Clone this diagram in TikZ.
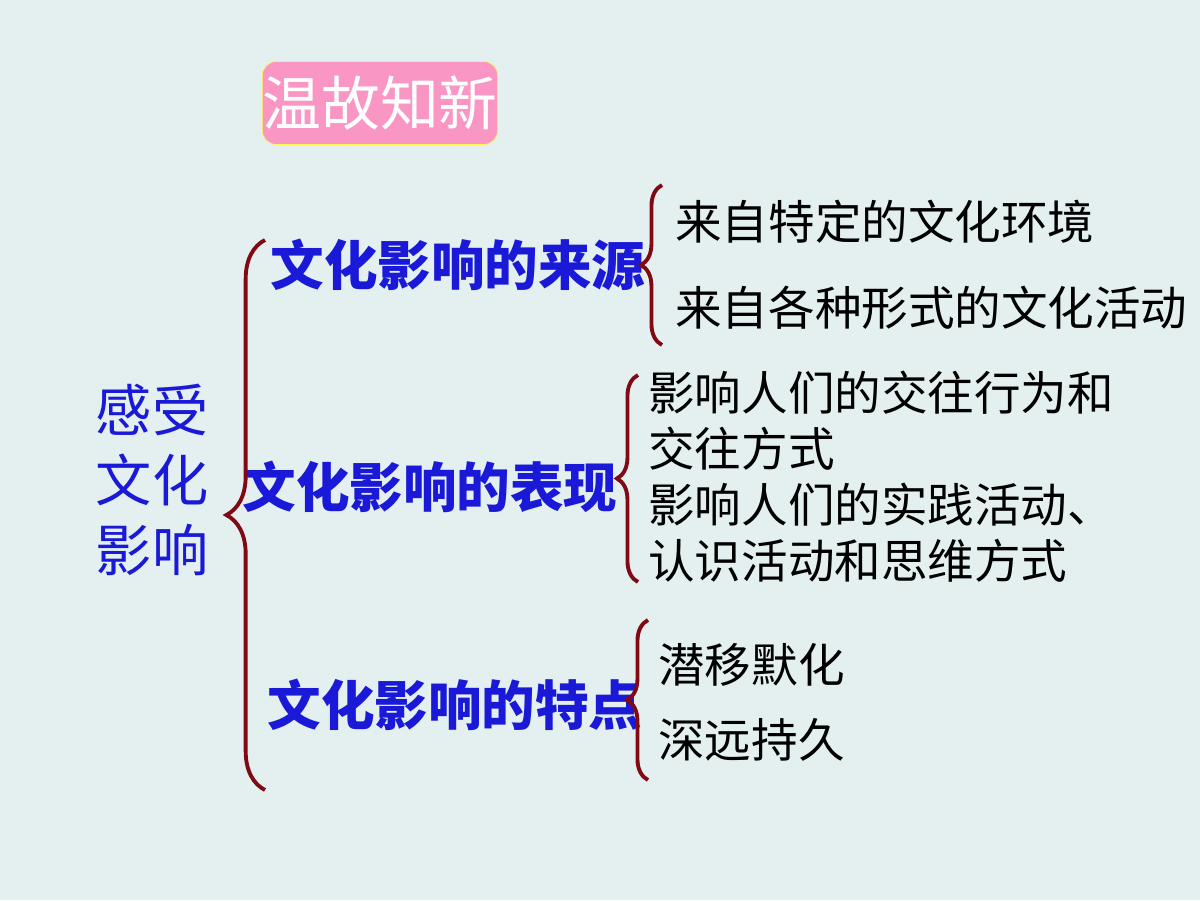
\documentclass[tikz,border=0pt]{standalone}
\usepackage{fontspec}
\newfontfamily\cjk{Noto Sans CJK SC}
\usetikzlibrary{decorations.pathreplacing}
\definecolor{bgcol}{RGB}{228,240,240}
\definecolor{headblue}{RGB}{25,25,215}
\definecolor{bracered}{RGB}{128,10,20}
\definecolor{titlepink}{RGB}{250,150,195}
\tikzset{
  headtext/.style = {font=\cjk\bfseries\fontsize{30.5}{36}\selectfont, text=headblue, inner sep=0pt},
  itemtext/.style = {font=\cjk\fontsize{26.5}{32}\selectfont, anchor=west, align=left, inner sep=0pt},
  bigbrace/.style = {draw=bracered, line width=2.2pt, decorate,
    decoration={brace, amplitude=#1}}
}
\begin{document}
\begin{tikzpicture}[x=0.02cm, y=-0.02cm]
  \fill[bgcol] (0,0) rectangle (1200,900);
  \useasboundingbox (0,0) rectangle (1200,900);
  % title
  \node[draw=yellow!70, fill=titlepink, rounded corners=8pt, minimum width=234*0.02cm,
    minimum height=83*0.02cm, inner sep=0pt, text=white,
    font=\cjk\fontsize{33.5}{38}\selectfont] (title) at (380,103) {温故知新};
  % root
  \node[text=headblue, inner sep=0pt, align=center, font=\cjk\fontsize{32}{39.7}\selectfont] (root) at (152,480) {感受\\文化\\影响};
  % branches
  \node[headtext] (source) at (458,265) {文化影响的来源};
  \node[headtext] (effect) at (430,487) {文化影响的表现};
  \node[headtext] (feature) at (455,705) {文化影响的特点};
  % leaves
  \node[itemtext] (s1) at (675,222) {来自特定的文化环境};
  \node[itemtext] (s2) at (675,308) {来自各种形式的文化活动};
  \node[itemtext] (e1) at (648,421) {影响人们的交往行为和\\交往方式};
  \node[itemtext] (e2) at (648,533) {影响人们的实践活动、\\认识活动和思维方式};
  \node[itemtext] (f1) at (658,665) {潜移默化};
  \node[itemtext] (f2) at (658,740) {深远持久};
  % braces
  \coordinate (rootlo) at (265,790);
  \coordinate (roothi) at (265,240);
  \draw[bigbrace=22pt] (rootlo) -- (roothi);
  \coordinate (srclo) at (662,345);
  \coordinate (srchi) at (662,185);
  \draw[bigbrace=12pt] (srclo) -- (srchi);
  \coordinate (efflo) at (638,582);
  \coordinate (effhi) at (638,375);
  \draw[bigbrace=12pt] (efflo) -- (effhi);
  \coordinate (feallo) at (648,780);
  \coordinate (fealhi) at (648,620);
  \draw[bigbrace=12pt] (feallo) -- (fealhi);
\end{tikzpicture}
\end{document}
